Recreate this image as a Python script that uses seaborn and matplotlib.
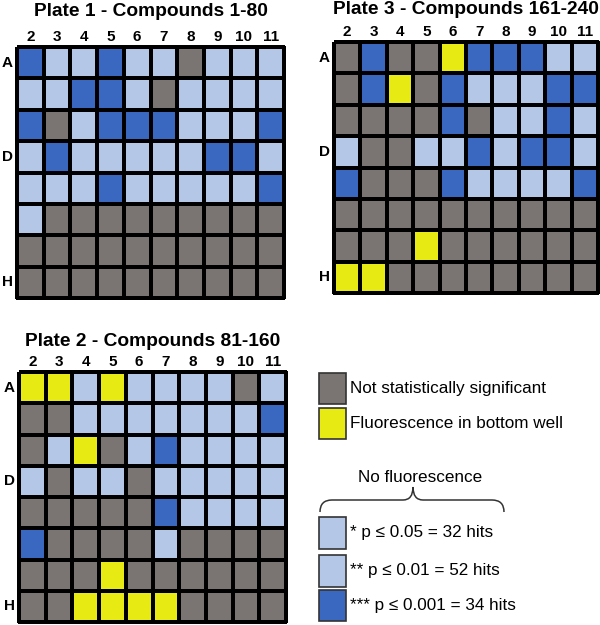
import matplotlib

matplotlib.use("Agg")
import matplotlib.pyplot as plt
import numpy as np
import seaborn as sns
from matplotlib.colors import ListedColormap
from matplotlib.patches import Rectangle, PathPatch
from matplotlib.path import Path

# Well codes: G = not significant, Y = fluorescence in bottom well,
# L = light blue (* / ** significance), D = dark blue (*** significance)
columns = ["2", "3", "4", "5", "6", "7", "8", "9", "10", "11"]
row_labels = ["A", "", "", "D", "", "", "", "H"]

plate1 = [
    "DLLDLLGLLL",
    "LLDDLGLLLL",
    "DGLDDDLLLD",
    "LDLLLLLDDL",
    "LLLDLLLLLD",
    "LGGGGGGGGG",
    "GGGGGGGGGG",
    "GGGGGGGGGG",
]
plate2 = [
    "YYLYLLLLGL",
    "GGLLLLLLLD",
    "GLYGLDLLLL",
    "LGLLGLLLLL",
    "GGGGGDLLLL",
    "DGGGGLGGGG",
    "GGGYGGGGGG",
    "GGYYYYGGGG",
]
plate3 = [
    "GDGGYDDDLL",
    "GDYGDLLLDD",
    "GGGGDGLLDL",
    "LGGLLDLDDL",
    "DGGGDLLLLD",
    "GGGGGGGGGG",
    "GGGYGGGGGG",
    "YYGGGGGGGG",
]

legend_labels = [
    "Not statistically significant",
    "Fluorescence in bottom well",
    "* p \u2264 0.05 = 32 hits",
    "** p \u2264 0.01 = 52 hits",
    "*** p \u2264 0.001 = 34 hits",
]

code = {"G": 0, "Y": 1, "L": 2, "D": 3}
grey = "#7a7573"
yellow = "#e8ea14"
light = "#b4c7e7"
dark = "#3a67c0"
cmap = ListedColormap([grey, yellow, light, dark])

W, H = 600, 625
fig = plt.figure(figsize=(6, 6.25), dpi=100)
fig.patch.set_facecolor("white")
font = ["Liberation Sans", "DejaVu Sans"]


def px_axes(x0, y0, x1, y1):
    return fig.add_axes([x0 / W, 1 - y1 / H, (x1 - x0) / W, (y1 - y0) / H])


def draw_plate(rows, box, title, title_y):
    ax = px_axes(*box)
    data = np.array([[code[c] for c in r] for r in rows])
    sns.heatmap(data, ax=ax, cmap=cmap, vmin=-0.5, vmax=3.5, cbar=False,
                linewidths=1.5, linecolor="black",
                xticklabels=columns, yticklabels=row_labels)
    ax.collections[0].set_clip_on(False)
    ax.xaxis.tick_top()
    ax.tick_params(length=0)
    ax.tick_params(axis="x", pad=2)
    ax.tick_params(axis="y", pad=3)
    for t in ax.get_xticklabels():
        t.set_fontsize(11)
        t.set_fontweight("bold")
        t.set_family(font)
        t.set_rotation(0)
    for t in ax.get_yticklabels():
        t.set_fontsize(11)
        t.set_fontweight("bold")
        t.set_family(font)
        t.set_rotation(0)
    cx = (box[0] + box[2]) / 2
    fig.text(cx / W, 1 - title_y / H, title, ha="center", va="center",
             fontsize=13.8, fontweight="bold", family=font)


draw_plate(plate1, (17, 47, 284, 298), "Plate 1 - Compounds 1-80", 11)
draw_plate(plate3, (334, 42, 598, 293), "Plate 3 - Compounds 161-240", 10)
draw_plate(plate2, (19, 372, 286, 622), "Plate 2 - Compounds 81-160", 341)

# legend
lax = fig.add_axes([0, 0, 1, 1])
lax.set_xlim(0, W)
lax.set_ylim(H, 0)
lax.axis("off")
boxes = [(373, 404), (408, 439), (517, 549), (555, 587), (590, 621)]
box_colors = [grey, yellow, light, light, dark]
for (y0, y1), col, lab in zip(boxes, box_colors, legend_labels):
    lax.add_patch(Rectangle((319, y0), 27, y1 - y0, facecolor=col,
                            edgecolor="#333333", lw=1.2))
    lax.text(350, (y0 + y1) / 2, lab, ha="left", va="center",
             fontsize=12.3, family=font)

lax.text(420, 477, "No fluorescence", ha="center", va="center",
         fontsize=12.3, family=font)

# curly brace
bx0, bx1, bmid = 320, 504, 413
ytop, ybot, ytip = 500, 512, 487
verts = [
    (bx0, ybot),
    (bx0, ytop), (bx0 + 12, ytop),
    (bmid - 10, ytop),
    (bmid, ytop), (bmid, ytip),
    (bmid, ytop), (bmid + 10, ytop),
    (bx1 - 12, ytop),
    (bx1, ytop), (bx1, ybot),
]
codes = [Path.MOVETO,
         Path.CURVE3, Path.CURVE3,
         Path.LINETO,
         Path.CURVE3, Path.CURVE3,
         Path.CURVE3, Path.CURVE3,
         Path.LINETO,
         Path.CURVE3, Path.CURVE3]
lax.add_patch(PathPatch(Path(verts, codes), facecolor="none",
                        edgecolor="#333333", lw=1.1))

fig.savefig("out.png", dpi=100)
